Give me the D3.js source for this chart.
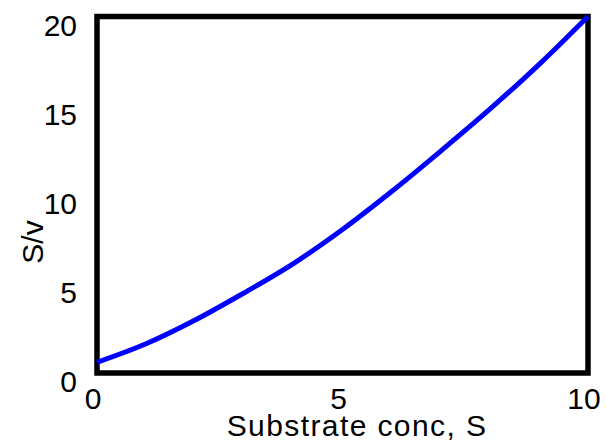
<!DOCTYPE html>
<html>
<head>
<meta charset="utf-8">
<script src="https://cdn.jsdelivr.net/npm/d3@7"></script>
<style>
  html, body { margin: 0; padding: 0; background: #fff; }
  svg { display: block; font-family: Arial, "Liberation Sans", sans-serif; }
</style>
</head>
<body>
<svg width="606" height="444"></svg>
<script>
// substrate concentration S and S/v
const substrate = [0, 1, 2, 3, 4, 5, 6, 7, 8, 9, 10];
const sOverV = [0.6, 1.64, 2.97, 4.5, 6.14, 8.05, 10.18, 12.45, 14.8, 17.3, 20.0];
const xTicks = [0, 5, 10];
const yTicks = [0, 5, 10, 15, 20];

const svg = d3.select("svg");

const x = d3.scaleLinear().domain([0, 10]).range([97, 588]);
const y = d3.scaleLinear().domain([0, 20]).range([373, 16.5]);

// frame
svg.append("rect")
  .attr("x", x(0)).attr("y", y(20))
  .attr("width", x(10) - x(0)).attr("height", y(0) - y(20))
  .attr("fill", "none").attr("stroke", "black").attr("stroke-width", 5.5);

// curve
const line = d3.line()
  .x((d, i) => x(substrate[i]))
  .y(d => y(d))
  .curve(d3.curveCatmullRom);

svg.append("path")
  .attr("d", line(sOverV))
  .attr("fill", "none")
  .attr("stroke", "#0000ff")
  .attr("stroke-width", 5)
  .attr("stroke-linejoin", "round");

// tick labels
svg.selectAll(".ytick").data(yTicks).enter().append("text")
  .attr("x", 77).attr("y", d => y(d) + 19)
  .attr("text-anchor", "end").attr("font-size", 30)
  .text(d => d);

svg.selectAll(".xtick").data(xTicks).enter().append("text")
  .attr("x", d => x(d) - 4).attr("y", 409)
  .attr("text-anchor", "middle").attr("font-size", 30)
  .text(d => d);

// axis titles
svg.append("text")
  .attr("x", 357).attr("y", 436)
  .attr("text-anchor", "middle").attr("font-size", 30)
  .attr("letter-spacing", 1.4)
  .text("Substrate conc, S");

svg.append("text")
  .attr("transform", "translate(43,242) rotate(-90)")
  .attr("text-anchor", "middle").attr("font-size", 30)
  .text("S/v");
</script>
</body>
</html>
